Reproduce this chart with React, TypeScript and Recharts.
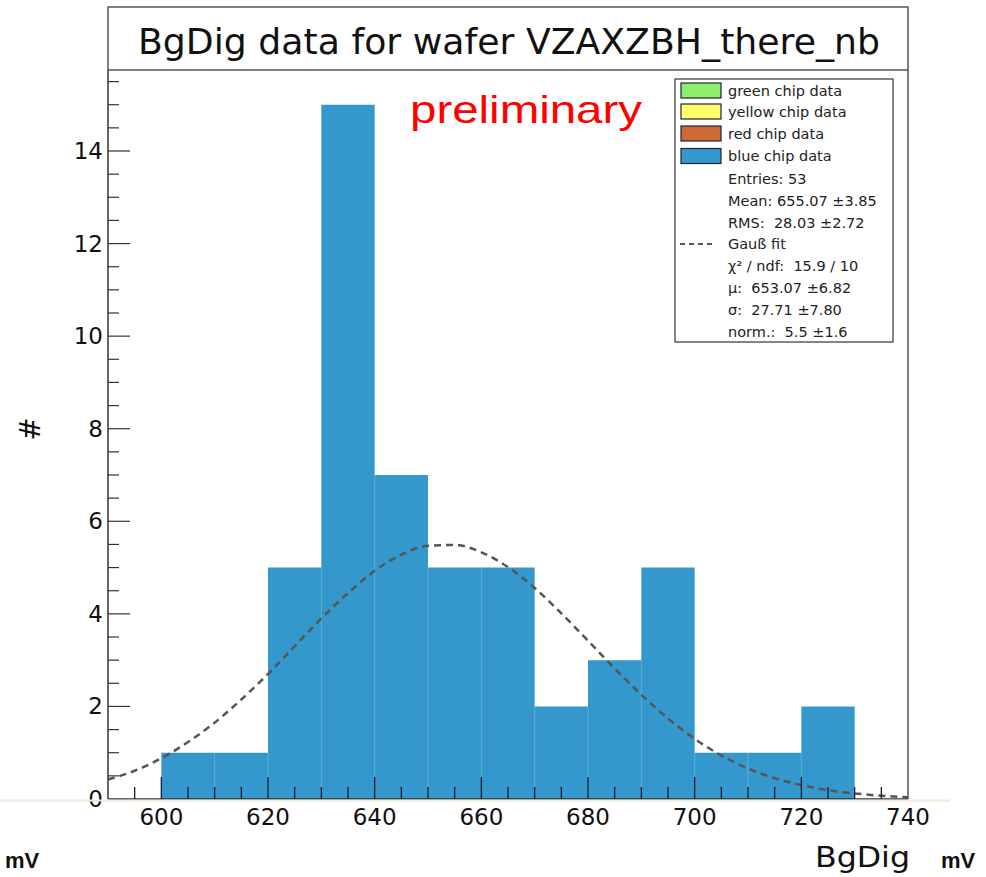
import { Area, ComposedChart, Line, ReferenceLine, XAxis, YAxis } from 'recharts';

// histogram bins (lower edges, 10 mV wide) and entries per bin
const binEdges = [600, 610, 620, 630, 640, 650, 660, 670, 680, 690, 700, 710, 720, 730];
const binCounts = [1, 1, 5, 15, 7, 5, 5, 2, 3, 5, 1, 1, 2];

// dashed Gauss fit, every 5 mV
const fitX = [
  590, 595, 600, 605, 610, 615, 620, 625, 630, 635, 640, 645, 650, 655, 660, 665,
  670, 675, 680, 685, 690, 695, 700, 705, 710, 715, 720, 725, 730, 735, 740,
];
const fitY = [
  0.42, 0.61, 0.88, 1.23, 1.65, 2.15, 2.7, 3.3, 3.9, 4.45, 4.93, 5.28, 5.47, 5.49, 5.33, 5.01,
  4.56, 4.01, 3.42, 2.82, 2.25, 1.74, 1.3, 0.94, 0.66, 0.45, 0.3, 0.19, 0.12, 0.07, 0.04,
];

const xTicks = fitX.slice(0);
const xLabels = [600, 620, 640, 660, 680, 700, 720, 740];
const yTicks = Array.from({ length: 32 }, (_, i) => i * 0.5);
const yLabels = [0, 2, 4, 6, 8, 10, 12, 14];

const legendRows = [
  { label: 'green chip data', color: '#8cf06c' },
  { label: 'yellow chip data', color: '#ffff66' },
  { label: 'red chip data', color: '#cf6a38' },
  { label: 'blue chip data', color: '#3598cc' },
];
const statsLines = ['Entries: 53', 'Mean: 655.07 \u00b13.85', 'RMS:  28.03 \u00b12.72'];
const fitLines = ['\u03c7\u00b2 / ndf:  15.9 / 10', '\u00b5:  653.07 \u00b16.82', '\u03c3:  27.71 \u00b17.80', 'norm.:  5.5 \u00b11.6'];

const BAR = '#3598cc';
const FONT = '"DejaVu Sans", sans-serif';
const X_DOMAIN = [590, 740];
const Y_DOMAIN = [0, 15.75];

const data = fitX.map((x, i) => {
  const e = binEdges.indexOf(x);
  let hist: number | null = null;
  if (e >= 0) hist = e < binCounts.length ? binCounts[e] : 0;
  return { x, fit: fitY[i], hist };
});

const XTick = (props: any) => {
  const { x, y, payload } = props;
  const v = payload.value;
  const len = v % 20 === 0 ? 22 : 12;
  return (
    <g>
      {v > 590 && v < 740 && <line x1={x} x2={x} y1={y} y2={y - len} stroke="#1b1b33" strokeWidth={1.3} />}
      {xLabels.includes(v) && (
        <text x={x} y={y + 26} textAnchor="middle" fontSize={23} fontFamily={FONT} fill="#111">
          {v}
        </text>
      )}
    </g>
  );
};

const YTick = (props: any) => {
  const { x, y, payload } = props;
  const v = payload.value;
  const major = yLabels.includes(v);
  return (
    <g>
      {v > 0 && <line x1={x} x2={x + (major ? 22 : 11)} y1={y} y2={y} stroke="#333" strokeWidth={1.2} />}
      {major && (
        <text x={x - 5} y={y + 8} textAnchor="end" fontSize={23} fontFamily={FONT} fill="#111">
          {v}
        </text>
      )}
    </g>
  );
};

const layer = { position: 'absolute' as const, left: 0, top: 0 };

export default function App() {
  const rowY = [90.5, 111.5, 133.5, 156];
  const statY = [179, 201, 223];
  const fitRowY = [266, 288, 310, 332];
  return (
    <div style={{ position: 'absolute', left: 0, top: 0, width: 986, height: 877, background: '#fff' }}>
      {/* histogram underneath */}
      <div style={layer}>
        <ComposedChart width={986} height={877} data={data} margin={{ top: 70, right: 78, bottom: 78, left: 108 }}>
          <XAxis dataKey="x" type="number" domain={X_DOMAIN} hide />
          <YAxis type="number" domain={Y_DOMAIN} hide />
          <Area
            dataKey="hist"
            type="stepAfter"
            fill={BAR}
            fillOpacity={1}
            stroke="none"
            connectNulls
            isAnimationActive={false}
          />
          {binEdges.slice(1, -1).map((edge, i) => (
            <ReferenceLine
              key={edge}
              segment={[
                { x: edge, y: 0 },
                { x: edge, y: Math.min(binCounts[i], binCounts[i + 1]) },
              ]}
              stroke="rgba(255,255,255,0.22)"
              strokeWidth={1}
            />
          ))}
        </ComposedChart>
      </div>

      {/* axes, tick marks and fit curve on top of the bars */}
      <div style={layer}>
        <ComposedChart width={986} height={877} data={data} margin={{ top: 70, right: 78, bottom: 18, left: 48 }}>
          <XAxis
            dataKey="x"
            type="number"
            domain={X_DOMAIN}
            ticks={xTicks}
            interval={0}
            height={60}
            tickSize={0}
            tickMargin={0}
            tickLine={false}
            tick={<XTick />}
            axisLine={{ stroke: '#333', strokeWidth: 1.5 }}
          />
          <YAxis
            type="number"
            domain={Y_DOMAIN}
            ticks={yTicks}
            interval={0}
            width={60}
            tickSize={0}
            tickMargin={0}
            tickLine={false}
            tick={<YTick />}
            axisLine={{ stroke: '#333', strokeWidth: 1.5 }}
          />
          <Line
            dataKey="fit"
            type="monotone"
            stroke="#555"
            strokeWidth={2.5}
            strokeDasharray="7 5"
            dot={false}
            connectNulls
            isAnimationActive={false}
          />
        </ComposedChart>
      </div>

      <svg width={986} height={877} style={{ ...layer, pointerEvents: 'none' }}>
        <line x1={0} x2={950} y1={800.5} y2={800.5} stroke="#efeadb" strokeWidth={2} />
        {/* frame and title box */}
        <rect x={108} y={7} width={800} height={63} fill="#fff" stroke="#555" strokeWidth={1.5} />
        <line x1={908} x2={908} y1={70} y2={799} stroke="#555" strokeWidth={1.5} />
        <text x={138} y={54} fontSize={36} fontFamily={FONT} fill="#111" textLength={742} lengthAdjust="spacingAndGlyphs">
          BgDig data for wafer VZAXZBH_there_nb
        </text>
        <text x={410} y={123} fontSize={39} fontFamily='"Liberation Sans", Arial, sans-serif' fill="#ff0000" textLength={232} lengthAdjust="spacingAndGlyphs">
          preliminary
        </text>

        {/* legend */}
        <rect x={675} y={79} width={218} height={263} fill="#fff" stroke="#333" strokeWidth={1.2} />
        {legendRows.map((r, i) => (
          <g key={r.label}>
            <rect x={681} y={rowY[i] - 7.5} width={40} height={15} fill={r.color} stroke="#1d2240" strokeWidth={1.2} />
            <text x={728} y={rowY[i] + 5} fontSize={14.5} fontFamily={FONT} fill="#222">
              {r.label}
            </text>
          </g>
        ))}
        {statsLines.map((t, i) => (
          <text key={t} x={728} y={statY[i] + 5} fontSize={14.5} fontFamily={FONT} fill="#222" style={{ whiteSpace: 'pre' }}>
            {t}
          </text>
        ))}
        <line x1={680} x2={716} y1={244} y2={244} stroke="#555" strokeWidth={2} strokeDasharray="5 4" />
        <text x={728} y={249} fontSize={14.5} fontFamily={FONT} fill="#222">
          Gau&szlig; fit
        </text>
        {fitLines.map((t, i) => (
          <text key={t} x={728} y={fitRowY[i] + 5} fontSize={14.5} fontFamily={FONT} fill="#222" style={{ whiteSpace: 'pre' }}>
            {t}
          </text>
        ))}

        {/* axis titles and units */}
        <text x={40} y={429} fontSize={28} fontFamily={FONT} fill="#111" textAnchor="middle" transform="rotate(-90 40 429)">
          #
        </text>
        <text x={815} y={867} fontSize={28} fontFamily={FONT} fill="#111" textLength={95} lengthAdjust="spacingAndGlyphs">
          BgDig
        </text>
        <text x={5} y={868} fontSize={22} fontWeight="bold" fontFamily='"Liberation Sans", Arial, sans-serif' fill="#111">
          mV
        </text>
        <text x={941} y={868} fontSize={22} fontWeight="bold" fontFamily='"Liberation Sans", Arial, sans-serif' fill="#111">
          mV
        </text>
      </svg>
    </div>
  );
}
